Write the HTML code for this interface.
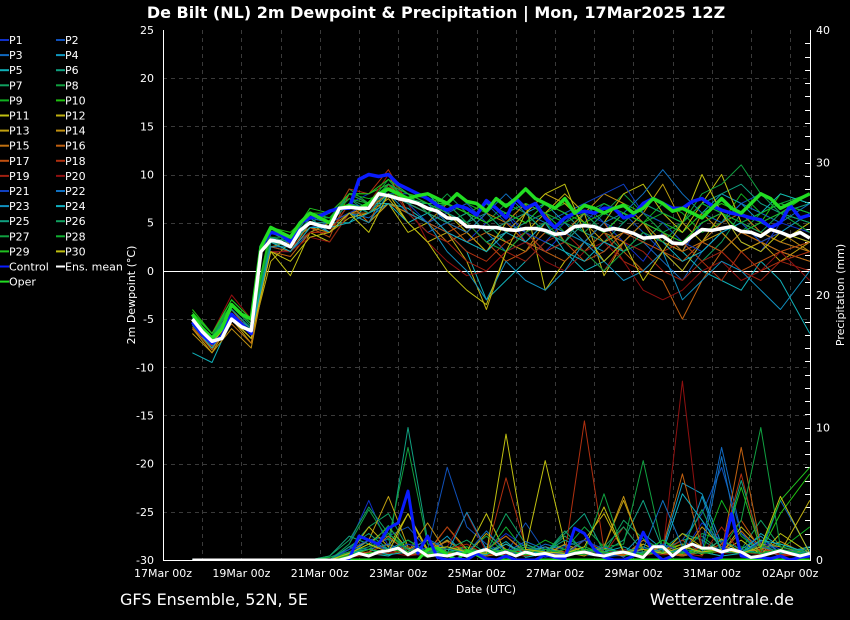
<!DOCTYPE html>
<html><head><meta charset="utf-8"><style>
html,body{margin:0;padding:0;background:#000;}
svg{display:block;font-family:"DejaVu Sans","Liberation Sans",sans-serif;}
</style></head><body>
<svg id="chart" width="850" height="620" viewBox="0 0 850 620">
<rect width="850" height="620" fill="#000"/>
<text x="436" y="18" fill="#fff" font-size="16" font-weight="bold" text-anchor="middle">De Bilt  (NL)  2m Dewpoint &amp; Precipitation | Mon, 17Mar2025 12Z</text>
<text x="120" y="605" fill="#fff" font-size="16">GFS Ensemble, 52N, 5E</text>
<text x="794" y="605" fill="#fff" font-size="16" text-anchor="end">Wetterzentrale.de</text>
<text x="486" y="593" fill="#fff" font-size="11" text-anchor="middle">Date (UTC)</text>
<text transform="translate(135,295) rotate(-90)" fill="#fff" font-size="11" text-anchor="middle">2m Dewpoint (°C)</text>
<text transform="translate(844,295) rotate(-90)" fill="#fff" font-size="11" text-anchor="middle">Precipitation (mm)</text>
<g id="grid"></g>
<g id="axes"></g>
<g id="series"></g>
<g id="legend"></g>
</svg>
<script>
const xLabels = ["17Mar 00z","19Mar 00z","21Mar 00z","23Mar 00z","25Mar 00z","27Mar 00z","29Mar 00z","31Mar 00z","02Apr 00z"];
const xLabelHours = [0,48,96,144,192,240,288,336,384];
const yTicks = [25,20,15,10,5,0,-5,-10,-15,-20,-25,-30];
const y2Ticks = [40,30,20,10,0];
const meanHours = [18,24,30,36,42,48,54,60,66,72,78,84,90,96,102,108,114,120,126,132,138,144,150,156,162,168,174,180,186,192,198,204,210,216,222,228,234,240,246,252,258,264,270,276,282,288,294,300,306,312,318,324,330,336,342,348,354,360,366,372,378,384,390,396];
const memberHours = [18,30,42,54,66,78,90,102,114,126,138,150,162,174,186,198,210,222,234,246,258,270,282,294,306,318,330,342,354,366,378,396];
const meanTd = [-5,-6.3,-7.3,-7,-5,-5.8,-6.2,2,3.2,3,2.5,4.2,5,4.7,4.5,6.5,6.6,6.5,6.5,8,7.8,7.5,7.3,7,6.5,6.2,5.5,5.4,4.6,4.6,4.5,4.5,4.3,4.2,4.4,4.4,4.2,3.8,3.9,4.6,4.7,4.6,4.2,4.4,4.2,3.9,3.4,3.5,3.6,2.9,2.8,3.6,4.3,4.2,4.4,4.6,4.1,4.0,3.6,4.3,4.0,3.6,4.0,3.4];
const controlTd = [-5.3,-6.6,-7.5,-6.8,-4.5,-5.5,-6.5,2.5,4,3.8,3,5,5.5,5.7,6.2,6.5,6.5,9.5,10,9.8,10,9,8.5,8,7.5,6.8,6.3,6.8,6.5,5.8,7.3,6.5,5.5,7.5,6.5,7,5.5,4.5,5.5,6,6.2,6,6.5,6.5,5.5,5.8,7,7.5,7,6.5,6.5,7.2,7.5,6.8,6.3,6,5.8,5.5,5.3,4.5,5,6.8,5.5,5.8];
const operTd = [-4.5,-6,-7,-6,-3.5,-4.5,-5,2.5,4.5,4,3.5,5,6,5.5,5,6.5,6.8,6.5,7,8,8.5,8,7.5,7.8,8,7.5,7,8,7.2,7,6.2,7.5,6.7,7.5,8.5,7.5,7,6.5,7.5,6,6.8,6.5,6,6.5,6.8,6,6.5,7.5,7,6.2,6.5,6,5.5,6.5,7.5,6.5,6,7,8,7.5,6.5,7,7.5,8];
const meanPr = [0,0,0,0,0,0,0,0,0,0,0,0,0,0,0,0,0.2,0.5,0.3,0.6,0.7,0.9,0.4,0.8,0.3,0.4,0.3,0.5,0.3,0.6,0.8,0.4,0.6,0.3,0.6,0.4,0.5,0.3,0.3,0.5,0.6,0.4,0.3,0.5,0.6,0.4,0.2,1.0,1.0,0.3,0.9,1.2,0.9,0.9,0.6,0.8,0.6,0.2,0.3,0.5,0.7,0.5,0.3,0.5];
const controlPr = [0,0,0,0,0,0,0,0,0,0,0,0,0,0,0,0,0.1,1.8,1.5,1.2,2.4,2.8,5.2,0.5,1.8,0.2,0,0.1,0,0.5,0.1,0,0.3,0,0,0,0.4,0.2,0.1,2.4,2.0,0.8,0.2,0,0,0.3,2.1,0.6,0,0.3,0.9,0.2,0,0,0.2,3.5,0.3,0.2,0.2,0.1,0.3,0,0.2,0.3];
const operPr = [0,0,0,0,0,0,0,0,0,0,0,0,0,0,0,0,0,0,0,0,0,0,0,0,0.8,0.9,0.4,0,0.7,0.4,0,0,0,0,0,0,0,0,0,0,0,0,0,0,0,0,0,0,0,0,0,0,0,0,0,0,0,0,0,0,0,0,0,0];
const memberColors = ["#1030c8","#1050b8","#1068c0","#1098c0","#10b0b8","#10a080","#10a060","#10a040","#10b020","#20c010","#c0c010","#c0b010","#c0a010","#c09010","#c07010","#c06010","#c05010","#b03010","#a02010","#901010","#1040c0","#1070c0","#1090c0","#10b0c0","#10a080","#10a060","#10a040","#10b030","#20c020","#c0c010"];
const memberNames = ["P1","P2","P3","P4","P5","P6","P7","P8","P9","P10","P11","P12","P13","P14","P15","P16","P17","P18","P19","P20","P21","P22","P23","P24","P25","P26","P27","P28","P29","P30"];
const m01 = [-5,-7,-4,-6,2,2,5,4,7,8,9,6,5,4,3,5,6,3,2,4,6,5,3,1,4,2,5,6,3,2,5,4];
const m02 = [-4.5,-7.5,-4.5,-6.5,3,3,4.5,5,6,7,8,8,7,6,5,7,5,4,2,3,5,7,6,4,2,0,3,5,7,8,6,5];
const m03 = [-6,-8,-5,-7,2.5,2,4,5,6,5.5,7,6,4,5,6,4,2,3,5,6,7,5,4,3,1,-1,2,4,5,3,2,1];
const m04 = [-5.5,-7,-4.5,-6,3.5,2.5,5.5,4,7,6,8.5,7.5,8,6,5,3,4,6,7,5,3,2,4,6,5,4,6,8,7,5,4,6];
const m05 = [-8.5,-9.5,-5,-6.5,3,2,5,5,5,7,7,6.5,5,4,2,-3,-1,1,3,2,0,1,3,5,4,2,0,-1,-2,1,-1,-6.5];
const m06 = [-5,-7,-3.5,-5.5,4,3,6,5,8,7,9,8,6,7,5,6,4,5,7,6,4,3,5,7,6,5,7,8,9,7,6,7];
const m07 = [-5.2,-7.2,-4,-6,3,3.5,5,6,7.5,6,8,7,7,5,6,5,3,2,4,3,6,4,2,3,5,3,1,3,6,4,3,2];
const m08 = [-4.8,-6.8,-3,-5,3.5,3,5.5,5,8.5,7,9.5,7,6,8,6,5,7,6,4,5,7,6,8,6,4,5,3,2,4,6,7,8];
const m09 = [-4.5,-6.5,-3.5,-5.5,4,3.5,6,5.5,8,7.5,8,7.5,7,6,7,6,5,7,6,4,3,5,6,5,7,6,4,5,8,6,7,6];
const m10 = [-4,-6.5,-3,-5,4.5,4,6,6,8,8,9,8,7.5,7,6,7,6,5,6,7,5,6,7,6,5,4,6,7,6,5,8,7];
const m11 = [-5,-7.5,-4.5,-6.5,2,-0.5,4,3,6,5,7,4,5,6,4,2,5,7,-2,1,3,5,8,9,6,4,7,10,5,4,3,5];
const m12 = [-5.5,-7.5,-5,-7,1,3,5,4,5.5,6,7.5,5,3,4,1,-4,2,4,6,8,6,-0.5,3,5,2,0,3,6,4,3,2,1];
const m13 = [-6,-8.5,-5,-7.5,3,2.5,4,5,6,6.5,8,7,6,5,4,2,4,6,8,7,5,3,4,6,9,5,3,4,2,3,1,3];
const m14 = [-6.5,-8.5,-6,-8,2.5,3,4.5,4,7,5,7,6,5,7,6,4,3,2,5,4,6,8,7,5,3,2,6,4,2,3,4,2];
const m15 = [-6,-8,-5.5,-7.5,3,2,5,4.5,6,6,7,6,5,3,4,6,5,7,6,3,2,4,3,5,4,2,3,5,6,4,3,2];
const m16 = [-5.8,-8.2,-5,-7,2,1.5,4,4,7,5,9,7,6,5,3,4,5,3,2,1,3,5,2,0,-1,-5,-1,2,4,3,2,1];
const m17 = [-5.5,-7.8,-4,-6.5,2.5,2,4.5,3.5,8,7,10,6,5,4,5,3,1,2,4,3,1,2,4,3,2,1,3,2,0,1,2,3];
const m18 = [-5,-7,-4,-6,3,3,5,5,8.5,8,10.5,7,6,4,2,1,3,4,2,3,5,4,1,0,2,3,1,-1,2,0,1,2];
const m19 = [-4.5,-7,-3.5,-5.5,3,2.5,4,4,7,6,9,6,4,3,1,0,2,1,3,4,2,0,3,2,0,-1,1,2,0,-1,1,0];
const m20 = [-4.5,-6.5,-2.5,-5,2,2,3.5,3,6,7,10,7,3,1,-0.5,0,2,3,1,0,2,3,1,-2,-3,-2,0,1,-1,0,2,-1];
const m21 = [-5.2,-7.3,-4.5,-6.3,3.5,3,5,5,6,7,8,7,5,6,7,5,6,4,3,5,7,8,9,6,5,3,2,4,5,3,4,3];
const m22 = [-4.8,-7,-4,-6,3,3,5.5,5,7,6.5,9,8,7,5,4,6,8,6,5,4,3,5,6,8,10.5,8,6,5,7,6,5,7];
const m23 = [-5.3,-7.6,-4.5,-6.5,2.5,2.5,5,4,6,5,8,6,5,2,0,-3,1,-1,-2,0,3,1,-1,0,2,-3,-1,1,0,-2,-4,0];
const m24 = [-5.6,-8,-5,-6.5,3,2,4.5,4.5,5,6,7,5,6,4,3,2,4,3,5,2,1,3,2,4,3,1,2,4,5,6,8,7];
const m25 = [-5,-7,-4,-6,3,2.5,5,5,7,6,8,7,6,5,6,4,5,6,4,3,5,4,6,5,4,3,5,6,4,5,6,5];
const m26 = [-4.9,-7,-3.5,-5.8,3.5,3,5.5,5.5,7.5,6.5,8.5,7.5,7,6,5,7,6,5,6,5,4,6,5,7,6,5,7,6,5,4,6,5];
const m27 = [-4.7,-6.8,-3.5,-5.5,3.5,3.5,6,5.5,8,7,9,8,6,7,5,3,2,4,5,3,2,0,2,4,3,5,8,9,11,8,6,4];
const m28 = [-4.5,-6.5,-3.5,-5.5,4,3.5,6,5.5,7.5,7,9,7.5,6.5,7,6,5,6,7,6,5,6,7,6,5,6,5,7,6,5,6,7,6];
const m29 = [-4.3,-6.5,-3,-5,4,3.5,6.5,6,8,8,9.5,8,7,7,6,5,6,5,7,6,5,4,6,5,4,3,5,6,4,5,6,8];
const m30 = [-5.2,-7.5,-5,-7,2,1,3.5,4,6,4,8,5,3,0,-2,-3.5,2,6,8,9,4,1,3,-1,2,5,10,6,3,2,4,3];
const p01 = [0,0,0,0,0,0,0,0,1.2,4.5,1,0.5,0.3,1.5,0.4,0.8,2,1,0.2,0.5,1,0.4,0.3,0.8,1.2,0.5,2.8,1.4,0.6,1.5,0.8,0.5];
const p02 = [0,0,0,0,0,0,0,0.2,0.8,1.5,1.8,2.5,0.8,7,2.5,1.2,0.5,2.8,0.6,1,1.5,0.2,0.4,0.6,0.8,1.5,3.5,7,2,1,0.5,1];
const p03 = [0,0,0,0,0,0,0,0,0.5,1,1.6,0.8,1.5,0.5,1,0.3,0.6,0.4,1.2,0.8,0.5,1,0.2,1.5,0.8,0.3,1.2,8.5,2,0.5,4.5,0.6];
const p04 = [0,0,0,0,0,0,0,0,0.4,1.5,0.8,0.4,0.6,1.8,0.2,1,0.5,0.3,0.8,1.1,0.4,0.3,0.5,2,0.8,5.8,5,1.2,0.5,0.8,0.3,1];
const p05 = [0,0,0,0,0,0,0,0,0.6,0.5,0.3,1,0.4,0.6,0.3,0.5,1.4,0.2,0.5,0.3,0.6,0.2,0.8,0.5,1,0.3,0.6,0.3,0.5,2,1,0.5];
const p06 = [0,0,0,0,0,0,0,0.3,1.8,1.2,0.8,10,1.5,0.6,0.5,0.8,0.3,1,0.5,2,3.5,0.6,1.5,4.5,0.8,2,1.5,0.6,6,1.2,0.5,1];
const p07 = [0,0,0,0,0,0,0,0,0.8,2.5,3.5,0.9,0.6,1.5,0.5,0.6,3.5,1.2,0.5,1.8,0.8,0.5,3,1.6,0.7,1.5,1.8,0.6,0.8,3,1,0.5];
const p08 = [0,0,0,0,0,0,0,0,1.2,3.8,1.5,8.5,1.2,0.5,0.6,1.8,0.5,0.3,0.5,0.8,2.5,1,1.2,7.5,0.8,0.6,2,1.5,0.5,0.8,1.2,0.5];
const p09 = [0,0,0,0,0,0,0,0.2,0.6,0.8,2,0.6,0.4,0.8,1,0.5,0.3,0.6,1.5,0.8,0.5,1.2,0.3,0.6,1.5,0.3,0.6,4.5,1.8,0.6,0.8,2.5];
const p10 = [0,0,0,0,0,0,0,0,0.3,0.6,0.4,0.8,0.2,0.5,0.6,0.3,0.8,0.3,0.5,0.6,1,0.5,0.4,0.3,0.8,1.2,0.5,0.6,1,0.6,3.5,6.5];
const p11 = [0,0,0,0,0,0,0,0,0.5,1.2,2.5,0.8,1.5,0.5,0.6,3.5,0.5,0.8,7.5,1.2,0.6,0.9,0.4,1.2,0.5,0.3,0.8,0.6,1.5,0.4,2,0.5];
const p12 = [0,0,0,0,0,0,0,0,0.4,2.5,1,3.5,0.6,2.5,0.8,0.5,1.2,0.4,1,0.5,1.5,3.5,0.6,0.8,0.5,2,1,0.5,2.5,1,0.6,4.5];
const p13 = [0,0,0,0,0,0,0,0,0.6,1.5,4.8,1,0.5,1.5,0.4,2,0.8,0.5,1,0.6,0.3,1,4.5,0.8,0.6,1.2,0.4,1.6,0.5,1.2,1,0.4];
const p14 = [0,0,0,0,0,0,0,0,0.3,0.8,1.2,0.6,2.8,0.5,0.3,0.8,1.8,0.6,0.4,1.2,0.6,1,4.8,0.5,0.8,0.4,2.5,1,0.6,0.8,1.4,0.3];
const p15 = [0,0,0,0,0,0,0,0,0.4,0.6,1.8,0.5,0.8,1.4,0.6,0.3,0.5,1,0.6,0.4,0.8,0.6,0.3,1.5,0.5,0.4,1,0.5,2.2,0.6,0.5,0.3];
const p16 = [0,0,0,0,0,0,0,0,0.2,0.5,0.8,0.4,0.5,0.6,0.3,0.8,1.8,0.5,0.3,0.6,0.5,0.8,0.4,0.6,1,6.5,0.8,0.6,8.5,1,0.4,0.5];
const p17 = [0,0,0,0,0,0,0,0,0.3,0.6,1.2,0.6,0.4,1,0.5,0.6,0.4,0.8,0.6,0.3,1.5,0.6,0.4,0.8,0.5,0.3,0.6,1.2,3,0.8,0.5,0.3];
const p18 = [0,0,0,0,0,0,0,0,0.2,0.5,0.6,1,0.5,2.5,0.6,0.5,6.2,1,0.5,0.4,10.5,0.8,0.5,0.3,0.6,1.5,0.5,0.8,6.5,0.6,0.4,0.3];
const p19 = [0,0,0,0,0,0,0,0,0.3,0.4,0.5,0.8,0.6,0.8,1.2,0.4,0.5,0.3,0.6,0.5,0.8,0.4,2.5,0.6,0.4,0.5,0.3,2.5,0.5,1.2,0.3,0.4];
const p20 = [0,0,0,0,0,0,0,0,0.2,0.4,0.6,0.3,0.5,1,3.5,0.6,0.4,0.8,0.5,0.6,0.4,0.5,0.8,0.3,0.6,13.5,0.8,0.5,0.6,0.4,0.5,0.3];
const p21 = [0,0,0,0,0,0,0,0,0.8,1.5,0.6,1.2,0.8,0.4,0.6,0.8,0.5,1,0.6,0.4,1.5,0.8,0.6,0.5,1.2,0.6,0.5,1,0.4,1.4,0.6,0.5];
const p22 = [0,0,0,0,0,0,0,0,1,0.8,1.2,0.6,1.6,0.8,0.5,2.2,0.6,1.4,0.8,0.5,0.6,1,0.5,0.8,4.5,1,0.6,7.8,0.5,1,0.6,0.8];
const p23 = [0,0,0,0,0,0,0,0,0.6,0.4,0.8,1.5,0.6,0.5,3.6,0.8,0.5,0.6,1,0.4,0.6,0.8,0.5,0.6,0.8,0.5,4.8,0.6,0.8,1.8,0.5,0.6];
const p24 = [0,0,0,0,0,0,0,0,0.5,0.8,0.4,0.6,0.5,0.8,0.6,0.4,1.2,0.5,0.6,0.5,0.8,0.6,1,0.4,0.6,5,3,0.8,0.5,1.5,1.2,0.5];
const p25 = [0,0,0,0,0,0,0,0,1,2,0.8,0.6,0.5,1,0.6,0.8,0.5,1.2,0.6,1.5,0.8,0.5,0.6,1,0.5,0.8,0.6,1.5,0.8,0.5,0.6,0.4];
const p26 = [0,0,0,0,0,0,0,0.3,1.5,4,2,0.8,0.6,0.8,1.5,0.5,0.6,0.8,0.5,2.2,0.6,1,2.5,0.6,0.5,1,3.8,0.6,0.5,1.2,0.5,0.8];
const p27 = [0,0,0,0,0,0,0,0,0.6,1,2.6,0.5,0.8,0.6,0.5,0.8,0.6,1,0.5,0.8,0.6,5,0.6,0.8,0.5,1,0.6,0.8,3,10,1,0.5];
const p28 = [0,0,0,0,0,0,0,0,0.4,0.8,0.6,1.5,0.5,0.6,0.8,0.5,2.5,0.6,0.8,0.5,0.4,0.8,0.6,0.5,1.5,0.6,0.5,0.8,0.6,0.5,0.8,0.4];
const p29 = [0,0,0,0,0,0,0,0,0.3,0.5,0.8,0.6,0.5,0.4,0.6,0.5,0.8,0.4,0.6,0.5,0.8,0.6,0.5,0.4,0.6,0.5,0.8,0.6,5.5,0.8,4.5,7];
const p30 = [0,0,0,0,0,0,0,0,0.5,1.2,0.6,3.5,0.8,1,0.6,0.5,9.5,0.8,0.6,0.5,1,4,0.6,0.8,0.5,1,0.6,0.8,0.5,1,4.8,0.5];
const memberTd = [m01,m02,m03,m04,m05,m06,m07,m08,m09,m10,m11,m12,m13,m14,m15,m16,m17,m18,m19,m20,m21,m22,m23,m24,m25,m26,m27,m28,m29,m30];
const memberPr = [p01,p02,p03,p04,p05,p06,p07,p08,p09,p10,p11,p12,p13,p14,p15,p16,p17,p18,p19,p20,p21,p22,p23,p24,p25,p26,p27,p28,p29,p30];

const NS = "http://www.w3.org/2000/svg";
const PL = 163, PR = 810, PT = 30, PB = 560;
const X0 = 163, PXH = 39.2 / 24;
function xs(h){ return X0 + h * PXH; }
function ys(v){ return PT + (25 - v) * (PB - PT) / 55; }
function ys2(v){ return PB - v * (PB - PT) / 40; }
function mk(tag, attrs, parent){
  const el = document.createElementNS(NS, tag);
  for (const k in attrs) el.setAttribute(k, attrs[k]);
  parent.appendChild(el);
  return el;
}
const grid = document.getElementById("grid");
const axes = document.getElementById("axes");
const series = document.getElementById("series");
const legend = document.getElementById("legend");

for (let h = 0; h <= 396; h += 24) {
  const x = Math.round(xs(h)) + 0.5;
  if (x <= PL + 1 || x >= PR - 1) continue;
  const l = mk("line", {x1:x, x2:x, y1:PT, y2:PB, stroke:"#3a3a3a", "stroke-dasharray":"4,4"}, grid);
  
  
}
yTicks.forEach(v => {
  const y = Math.round(ys(v)) + 0.5;
  if (v !== 25 && v !== -30 && v !== 0) {
    const l = mk("line", {x1:PL, x2:PR, y1:y, y2:y, stroke:"#3a3a3a", "stroke-dasharray":"4,4"}, grid);
    
    
  }
  const t = mk("text", {x:154, y:ys(v)+4, fill:"#fff", "font-size":11, "text-anchor":"end"}, axes);
  t.textContent = v;
  
  
});
y2Ticks.forEach(v => {
  const y = ys2(v);
  const t = mk("text", {x:816, y:y+4, fill:"#fff", "font-size":11}, axes);
  t.textContent = v;
  
  
});
for (let v = 1; v < 40; v++) {
  const y = Math.round(ys2(v)) + 0.5;
  const l = mk("line", {x1:PR-5, x2:PR, y1:y, y2:y, stroke:"#fff"}, axes);
  
  
}
xLabels.forEach((s, i) => {
  const t = mk("text", {x:xs(xLabelHours[i]), y:577, fill:"#fff", "font-size":11, "text-anchor":"middle"}, axes);
  t.textContent = s;
  
  
});
const zy = Math.round(ys(0)) + 0.5;
const zl = mk("line", {x1:PL, x2:PR, y1:zy, y2:zy, stroke:"#fff", "stroke-width":1}, axes);


const fr = mk("path", {d:`M${PL+0.5},${PT}V${PB+0.5}H${PR+0.5}V${PT}`, fill:"none", stroke:"#fff", "stroke-width":1}, axes);



const clip = mk("clipPath", {id:"pc"}, mk("defs", {}, document.getElementById("chart")));
mk("rect", {x:PL, y:PT-2, width:PR-PL, height:PB-PT+2}, clip);
series.setAttribute("clip-path", "url(#pc)");

function line(hours, vals, scale, color, w, name){
  const d = vals.map((v,i) => (i ? "L" : "M") + xs(hours[i]).toFixed(1) + "," + scale(v).toFixed(1)).join("");
  const p = mk("path", {d:d, fill:"none", stroke:color, "stroke-width":w, "stroke-linejoin":"round"}, series);
  
  
}
memberTd.forEach((arr, i) => line(memberHours, arr, ys, memberColors[i], 1, "dewpoint-" + memberNames[i].toLowerCase()));
memberPr.forEach((arr, i) => line(memberHours, arr, ys2, memberColors[i], 1, "precip-" + memberNames[i].toLowerCase()));
line(meanHours, controlTd, ys, "#0a1cff", 3.5, "dewpoint-control");
line(meanHours, operTd, ys, "#22dd22", 3.5, "dewpoint-oper");
line(meanHours, meanTd, ys, "#ffffff", 3.5, "dewpoint-ens-mean");
line(meanHours, operPr, ys2, "#22dd22", 3, "precip-oper");
line(meanHours, controlPr, ys2, "#0a1cff", 3, "precip-control");
line(meanHours, meanPr, ys2, "#ffffff", 3, "precip-ens-mean");

const legNames = memberNames.concat(["Control","Ens. mean","Oper"]);
const legColors = memberColors.concat(["#0a1cff","#ffffff","#22dd22"]);
legNames.forEach((n, i) => {
  const col = i % 2, row = Math.floor(i / 2);
  const x = col ? 56 : 0;
  const y = 40 + row * 15.1;
  const l = mk("line", {x1:x, x2:x+9, y1:y, y2:y, stroke:legColors[i], "stroke-width":2}, legend);
  
  
  const t = mk("text", {x:x+9, y:y+4, fill:"#fff", "font-size":11}, legend);
  t.textContent = n;
  
  
});
</script>
</body></html>
